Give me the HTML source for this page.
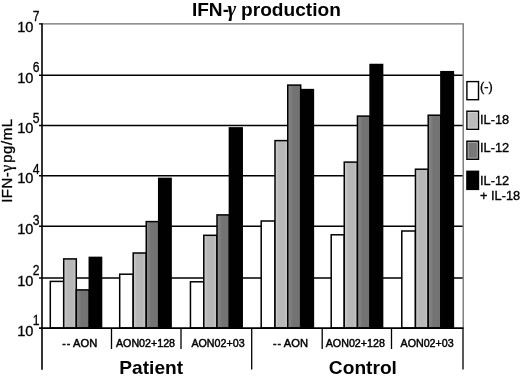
<!DOCTYPE html>
<html><head><meta charset="utf-8"><title>IFN-γ production</title>
<style>
html,body{margin:0;padding:0;background:#fff;}
body{width:520px;height:377px;overflow:hidden;font-family:"Liberation Sans",sans-serif;}
svg{display:block;will-change:transform;opacity:0.999;filter:blur(0.35px);}
text{font-family:"Liberation Sans",sans-serif;fill:#000;}
.ser{font-family:"Liberation Serif",serif;}
</style></head><body>
<svg width="520" height="377" viewBox="0 0 520 377">
<defs>
<linearGradient id="lg" x1="0" x2="1" y1="0" y2="0"><stop offset="0" stop-color="#cccccc"/><stop offset="0.3" stop-color="#b7b7b7"/><stop offset="0.7" stop-color="#b7b7b7"/><stop offset="1" stop-color="#c8c8c8"/></linearGradient>
<linearGradient id="dg" x1="0" x2="1" y1="0" y2="0"><stop offset="0" stop-color="#8c8c8c"/><stop offset="0.4" stop-color="#737373"/><stop offset="1" stop-color="#737373"/></linearGradient>
</defs>
<rect width="520" height="377" fill="#fff"/>
<path d="M42 23.9 H463.2 V328" fill="none" stroke="#6e6e6e" stroke-width="1.3"/>
<line x1="39" y1="75.2" x2="462.59999999999997" y2="75.2" stroke="#000" stroke-width="1.5"/>
<line x1="39" y1="125.5" x2="462.59999999999997" y2="125.5" stroke="#000" stroke-width="1.5"/>
<line x1="39" y1="175.8" x2="462.59999999999997" y2="175.8" stroke="#000" stroke-width="1.5"/>
<line x1="39" y1="226.3" x2="462.59999999999997" y2="226.3" stroke="#000" stroke-width="1.5"/>
<line x1="39" y1="278.0" x2="462.59999999999997" y2="278.0" stroke="#000" stroke-width="1.5"/>
<line x1="39" y1="23.9" x2="42" y2="23.9" stroke="#000" stroke-width="1.3"/>
<rect x="50.30" y="281.40" width="13.40" height="46.60" fill="#ffffff" stroke="#000" stroke-width="1.5"/>
<rect x="63.70" y="258.90" width="12.60" height="69.10" fill="url(#lg)" stroke="#000" stroke-width="1.5"/>
<rect x="76.30" y="289.90" width="13.00" height="38.10" fill="url(#dg)" stroke="#000" stroke-width="1.5"/>
<rect x="89.30" y="257.40" width="12.25" height="70.60" fill="#000000" stroke="#000" stroke-width="1.5"/>
<rect x="119.70" y="274.20" width="13.50" height="53.80" fill="#ffffff" stroke="#000" stroke-width="1.5"/>
<rect x="133.20" y="253.00" width="13.05" height="75.00" fill="url(#lg)" stroke="#000" stroke-width="1.5"/>
<rect x="146.25" y="221.60" width="12.45" height="106.40" fill="url(#dg)" stroke="#000" stroke-width="1.5"/>
<rect x="158.70" y="178.40" width="12.40" height="149.60" fill="#000000" stroke="#000" stroke-width="1.5"/>
<rect x="190.45" y="281.80" width="13.35" height="46.20" fill="#ffffff" stroke="#000" stroke-width="1.5"/>
<rect x="203.80" y="235.30" width="13.20" height="92.70" fill="url(#lg)" stroke="#000" stroke-width="1.5"/>
<rect x="217.00" y="214.90" width="12.40" height="113.10" fill="url(#dg)" stroke="#000" stroke-width="1.5"/>
<rect x="229.40" y="127.90" width="12.80" height="200.10" fill="#000000" stroke="#000" stroke-width="1.5"/>
<rect x="261.20" y="221.00" width="13.80" height="107.00" fill="#ffffff" stroke="#000" stroke-width="1.5"/>
<rect x="275.00" y="140.60" width="12.75" height="187.40" fill="url(#lg)" stroke="#000" stroke-width="1.5"/>
<rect x="287.75" y="85.10" width="12.95" height="242.90" fill="url(#dg)" stroke="#000" stroke-width="1.5"/>
<rect x="300.70" y="89.60" width="12.70" height="238.40" fill="#000000" stroke="#000" stroke-width="1.5"/>
<rect x="331.20" y="234.80" width="13.05" height="93.20" fill="#ffffff" stroke="#000" stroke-width="1.5"/>
<rect x="344.25" y="162.10" width="13.20" height="165.90" fill="url(#lg)" stroke="#000" stroke-width="1.5"/>
<rect x="357.45" y="116.10" width="12.65" height="211.90" fill="url(#dg)" stroke="#000" stroke-width="1.5"/>
<rect x="370.10" y="64.50" width="12.50" height="263.50" fill="#000000" stroke="#000" stroke-width="1.5"/>
<rect x="401.80" y="231.00" width="13.65" height="97.00" fill="#ffffff" stroke="#000" stroke-width="1.5"/>
<rect x="415.45" y="169.20" width="12.75" height="158.80" fill="url(#lg)" stroke="#000" stroke-width="1.5"/>
<rect x="428.20" y="115.20" width="12.70" height="212.80" fill="url(#dg)" stroke="#000" stroke-width="1.5"/>
<rect x="440.90" y="71.70" width="12.50" height="256.30" fill="#000000" stroke="#000" stroke-width="1.5"/>
<line x1="42" y1="23.299999999999997" x2="42" y2="369.8" stroke="#000" stroke-width="1.6"/>
<line x1="39" y1="328.2" x2="463.5" y2="328.2" stroke="#000" stroke-width="1.75"/>
<line x1="111.50" y1="328" x2="111.50" y2="349" stroke="#000" stroke-width="1.3"/>
<line x1="181.00" y1="328" x2="181.00" y2="349" stroke="#000" stroke-width="1.3"/>
<line x1="251.70" y1="328" x2="251.70" y2="369.5" stroke="#000" stroke-width="1.3"/>
<line x1="322.20" y1="328" x2="322.20" y2="349" stroke="#000" stroke-width="1.3"/>
<line x1="391.50" y1="328" x2="391.50" y2="349" stroke="#000" stroke-width="1.3"/>
<line x1="463.00" y1="328" x2="463.00" y2="369.5" stroke="#000" stroke-width="1.3"/>
<text transform="translate(17.2,31.5) scale(0.98,1)" font-size="14.9" stroke="#000" stroke-width="0.3">10</text>
<text transform="translate(32.8,21.4) scale(0.8,1)" font-size="15.2" stroke="#000" stroke-width="0.3">7</text>
<text transform="translate(17.2,82.8) scale(0.98,1)" font-size="14.9" stroke="#000" stroke-width="0.3">10</text>
<text transform="translate(32.8,72.2) scale(0.8,1)" font-size="15.2" stroke="#000" stroke-width="0.3">6</text>
<text transform="translate(17.2,133.1) scale(0.98,1)" font-size="14.9" stroke="#000" stroke-width="0.3">10</text>
<text transform="translate(32.8,122.9) scale(0.8,1)" font-size="15.2" stroke="#000" stroke-width="0.3">5</text>
<text transform="translate(17.2,183.4) scale(0.98,1)" font-size="14.9" stroke="#000" stroke-width="0.3">10</text>
<text transform="translate(32.8,174.3) scale(0.8,1)" font-size="15.2" stroke="#000" stroke-width="0.3">4</text>
<text transform="translate(17.2,233.9) scale(0.98,1)" font-size="14.9" stroke="#000" stroke-width="0.3">10</text>
<text transform="translate(32.8,224.8) scale(0.8,1)" font-size="15.2" stroke="#000" stroke-width="0.3">3</text>
<text transform="translate(17.2,285.6) scale(0.98,1)" font-size="14.9" stroke="#000" stroke-width="0.3">10</text>
<text transform="translate(32.8,275.2) scale(0.8,1)" font-size="15.2" stroke="#000" stroke-width="0.3">2</text>
<text transform="translate(17.2,335.6) scale(0.98,1)" font-size="14.9" stroke="#000" stroke-width="0.3">10</text>
<text transform="translate(32.8,325.4) scale(0.8,1)" font-size="15.2" stroke="#000" stroke-width="0.3">1</text>
<text transform="translate(12.3,202.8) rotate(-90)" font-size="15" letter-spacing="0.47" stroke="#000" stroke-width="0.3">IFN-<tspan class="ser" font-size="16">γ</tspan></text>
<text transform="translate(12.3,118.4) rotate(-90)" font-size="15" letter-spacing="0.55" text-anchor="end" stroke="#000" stroke-width="0.3">pg/mL</text>
<text transform="translate(191.9,16.3) scale(1.022,1)" font-size="18.7" font-weight="bold">IFN-<tspan class="ser" font-size="20.5" font-style="italic" dx="-1.6">γ</tspan><tspan dx="-0.3"> production</tspan></text>
<text x="62.2" y="347.2" font-size="10.7" letter-spacing="0.9" stroke="#000" stroke-width="0.45">--</text>
<text transform="translate(73.0,347.2) scale(1.045,1)" font-size="10.7" stroke="#000" stroke-width="0.45">AON</text>
<text x="145.5" y="347.2" font-size="10.7" text-anchor="middle" stroke="#000" stroke-width="0.45">AON02+128</text>
<text x="218.0" y="347.2" font-size="10.7" text-anchor="middle" stroke="#000" stroke-width="0.45">AON02+03</text>
<text x="273.0" y="347.2" font-size="10.7" letter-spacing="0.9" stroke="#000" stroke-width="0.45">--</text>
<text transform="translate(283.8,347.2) scale(1.045,1)" font-size="10.7" stroke="#000" stroke-width="0.45">AON</text>
<text x="355.3" y="347.2" font-size="10.7" text-anchor="middle" stroke="#000" stroke-width="0.45">AON02+128</text>
<text x="427.1" y="347.2" font-size="10.7" text-anchor="middle" stroke="#000" stroke-width="0.45">AON02+03</text>
<text transform="translate(151.2,373.9) scale(1.04,1)" font-size="18.4" font-weight="bold" text-anchor="middle">Patient</text>
<text transform="translate(362.9,373.9) scale(1.03,1)" font-size="18.6" font-weight="bold" text-anchor="middle">Control</text>
<rect x="466.9" y="81.6" width="11.6" height="18.1" fill="#fff" stroke="#000" stroke-width="1.4"/>
<rect x="466.9" y="111.2" width="11.6" height="18.1" fill="#bcbcbc" stroke="#000" stroke-width="1.4"/>
<rect x="468.1" y="112.4" width="9.2" height="15.7" fill="none" stroke="#fff" stroke-opacity="0.4" stroke-width="0.9"/>
<rect x="466.9" y="141.2" width="11.6" height="18.1" fill="#787878" stroke="#000" stroke-width="1.4"/>
<rect x="468.1" y="142.39999999999998" width="9.2" height="15.7" fill="none" stroke="#fff" stroke-opacity="0.4" stroke-width="0.9"/>
<rect x="466.9" y="171.3" width="11.6" height="18.1" fill="#000" stroke="#000" stroke-width="1.4"/>
<text x="480.0" y="91.1" font-size="12.8" stroke="#000" stroke-width="0.35">(-)</text>
<text x="480.0" y="123.5" font-size="12.8" stroke="#000" stroke-width="0.35">IL-18</text>
<text x="480.0" y="152.3" font-size="12.8" stroke="#000" stroke-width="0.35">IL-12</text>
<text x="480.0" y="184.5" font-size="12.8" stroke="#000" stroke-width="0.35">IL-12</text>
<text x="480.0" y="200.2" font-size="12.8" stroke="#000" stroke-width="0.35">+ IL-18</text>
</svg></body></html>
